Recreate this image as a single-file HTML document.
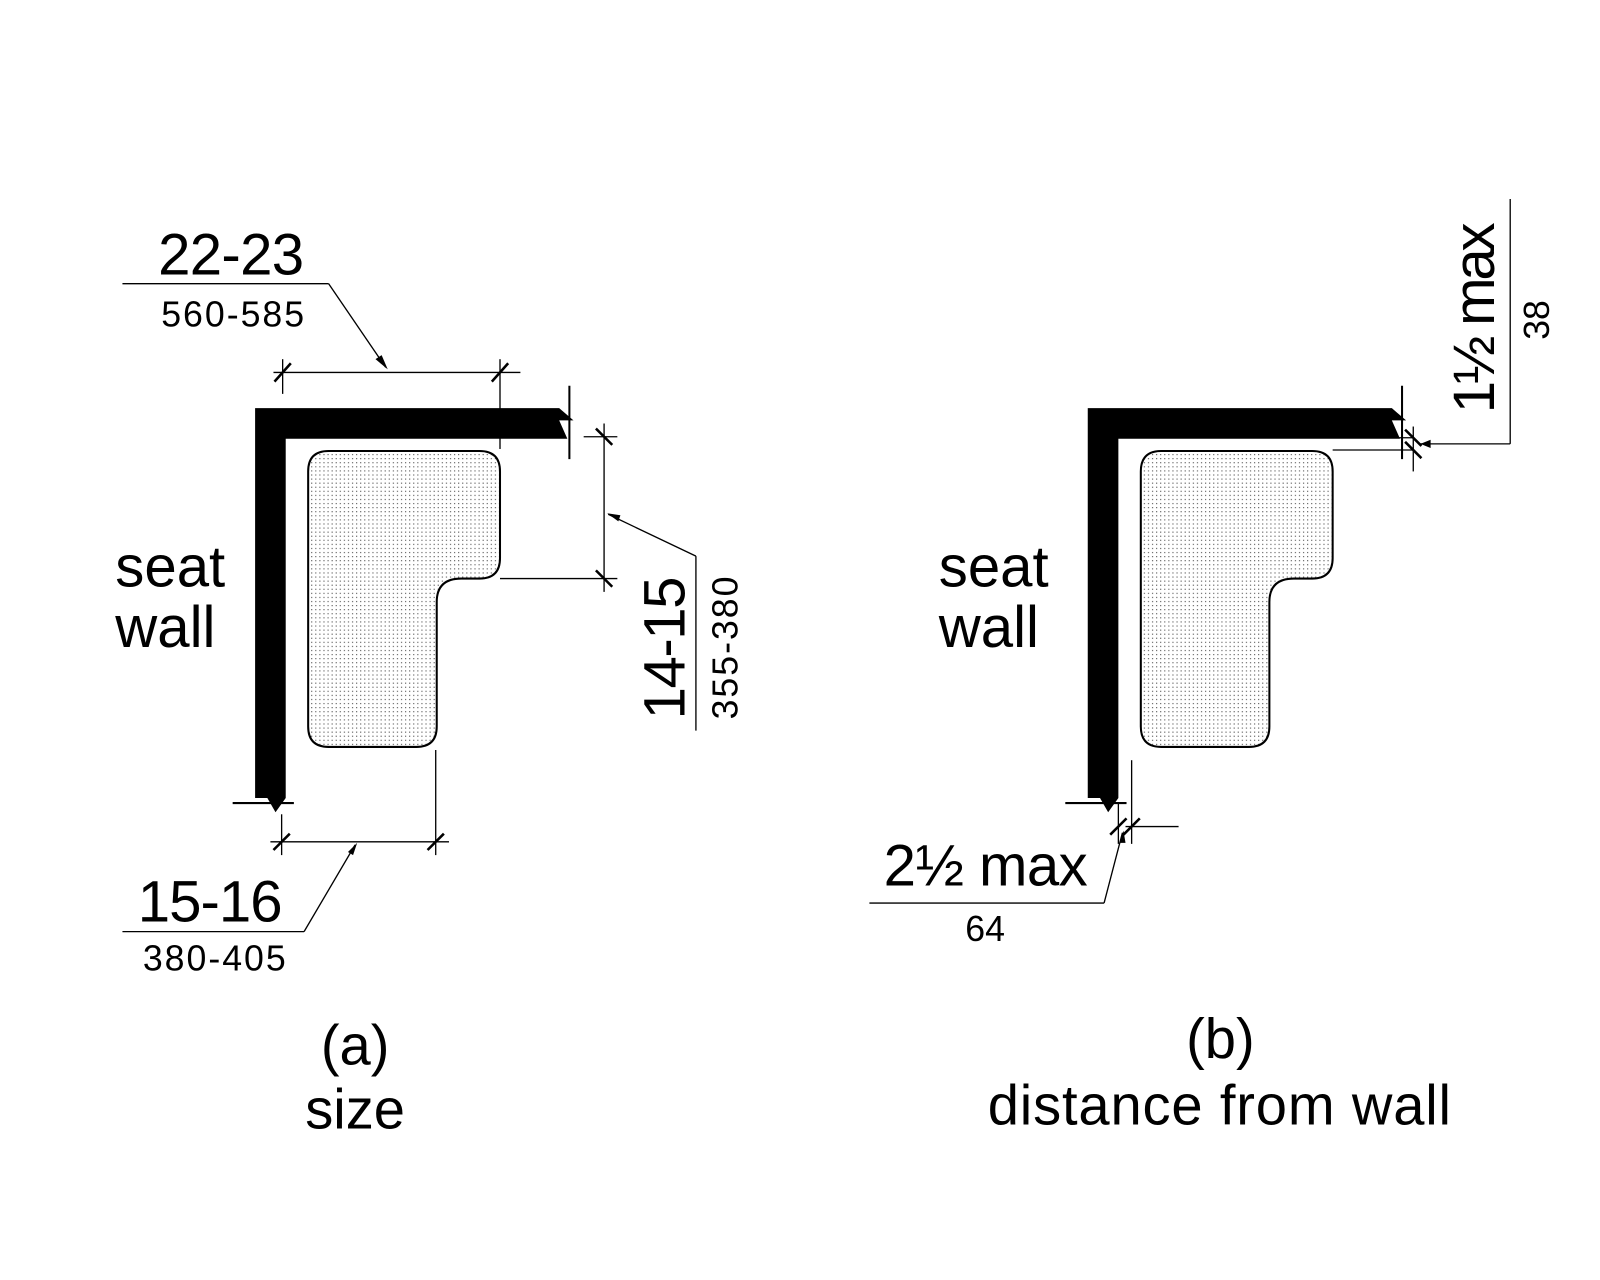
<!DOCTYPE html>
<html><head><style>html,body{margin:0;padding:0;background:#fff}svg{display:block}</style></head>
<body>
<svg width="1600" height="1280" viewBox="0 0 1568 1254.4" xmlns="http://www.w3.org/2000/svg" font-family="Liberation Sans, sans-serif">
<defs>
<pattern id="dots" width="4" height="4" patternUnits="userSpaceOnUse"><rect x="1" y="1" width="1" height="1" fill="#000" opacity="0.8"/></pattern>
<g id="fig">
<path d="M250 400 H548 L562 412 H548 L556 430 H280 V782 L270 796 L262 782 H250 Z" fill="#000"/>
<line x1="558" y1="378" x2="558" y2="450" stroke="#000" stroke-width="2"/>
<line x1="228" y1="787" x2="288" y2="787" stroke="#000" stroke-width="2"/>
<path d="M322 442 H470 Q490 442 490 462 V547 Q490 567 470 567 H452 Q428 567 428 590 V712 Q428 732 408 732 H322 Q302 732 302 712 V462 Q302 442 322 442 Z" fill="url(#dots)" stroke="#000" stroke-width="2"/>
</g>
</defs>
<use href="#fig"/>
<use href="#fig" transform="translate(816 0)"/>
<g stroke="#000" stroke-width="1.3" fill="none">
<line x1="268" y1="365" x2="510" y2="365"/>
<line x1="277" y1="352" x2="277" y2="386"/>
<line x1="490" y1="352" x2="490" y2="440"/>
<line x1="120" y1="278" x2="322" y2="278"/>
<line x1="322" y1="278" x2="378" y2="360"/>
<line x1="592" y1="415" x2="592" y2="580"/>
<line x1="572" y1="428" x2="605" y2="428"/>
<line x1="490" y1="567" x2="605" y2="567"/>
<line x1="596" y1="504" x2="682" y2="545"/>
<line x1="682" y1="545" x2="682" y2="716"/>
<line x1="265" y1="825" x2="440" y2="825"/>
<line x1="276" y1="798" x2="276" y2="838"/>
<line x1="427" y1="735" x2="427" y2="838"/>
<line x1="120" y1="913" x2="298" y2="913"/>
<line x1="298" y1="913" x2="348" y2="828"/>
<line x1="1344" y1="429" x2="1384" y2="429"/>
<line x1="1306" y1="441" x2="1384" y2="441"/>
<line x1="1385" y1="418" x2="1385" y2="462"/>
<line x1="1392" y1="435" x2="1480" y2="435"/>
<line x1="1480" y1="435" x2="1480" y2="195"/>
<line x1="1103" y1="810" x2="1155" y2="810"/>
<line x1="1096" y1="787" x2="1096" y2="827"/>
<line x1="1109" y1="745" x2="1109" y2="827"/>
<line x1="852" y1="885" x2="1082" y2="885"/>
<line x1="1082" y1="885" x2="1100" y2="816"/>
</g>
<g stroke="#000" stroke-width="2.5">
<line x1="269" y1="374" x2="285" y2="356"/><line x1="482" y1="374" x2="498" y2="356"/>
<line x1="584" y1="420" x2="600" y2="436"/><line x1="584" y1="559" x2="600" y2="575"/>
<line x1="268" y1="833" x2="284" y2="817"/><line x1="419" y1="833" x2="435" y2="817"/>
<line x1="1377" y1="421" x2="1393" y2="437"/><line x1="1377" y1="433" x2="1393" y2="449"/>
<line x1="1088" y1="818" x2="1104" y2="802"/><line x1="1101" y1="818" x2="1117" y2="802"/>
</g>
<g fill="#000">
<polygon points="380,362 368,352 374,348"/>
<polygon points="595,503 608,505 606,511"/>
<polygon points="350,826 346,838 341,835"/>
<polygon points="1392,435 1402,431 1402,439"/>
<polygon points="1101,814 1097,826 1103,826"/>
</g>
<g fill="#000">
<text x="155" y="269" font-size="57" textLength="143">22-23</text>
<text x="158" y="320" font-size="35" textLength="140">560-585</text>
<text x="671" y="705" font-size="57" textLength="140" transform="rotate(-90 671 705)">14-15</text>
<text x="723" y="705" font-size="35" textLength="140" transform="rotate(-90 723 705)">355-380</text>
<text x="135" y="903" font-size="57" textLength="142">15-16</text>
<text x="140" y="951" font-size="35" textLength="140">380-405</text>
<text x="113" y="575" font-size="57">seat</text>
<text x="113" y="634" font-size="57">wall</text>
<text x="920" y="575" font-size="57">seat</text>
<text x="920" y="634" font-size="57">wall</text>
<text x="348" y="1043" font-size="55" text-anchor="middle">(a)</text>
<text x="348" y="1106" font-size="55" text-anchor="middle">size</text>
<text x="1196" y="1037" font-size="55" text-anchor="middle">(b)</text>
<text x="968" y="1102" font-size="55" textLength="454">distance from wall</text>
<text x="1464" y="405" font-size="57" textLength="187" transform="rotate(-90 1464 405)">1½ max</text>
<text x="1518" y="333" font-size="35" transform="rotate(-90 1518 333)">38</text>
<text x="866" y="868" font-size="57" textLength="200">2½ max</text>
<text x="946" y="922" font-size="35">64</text>
</g>
</svg>
</body></html>
